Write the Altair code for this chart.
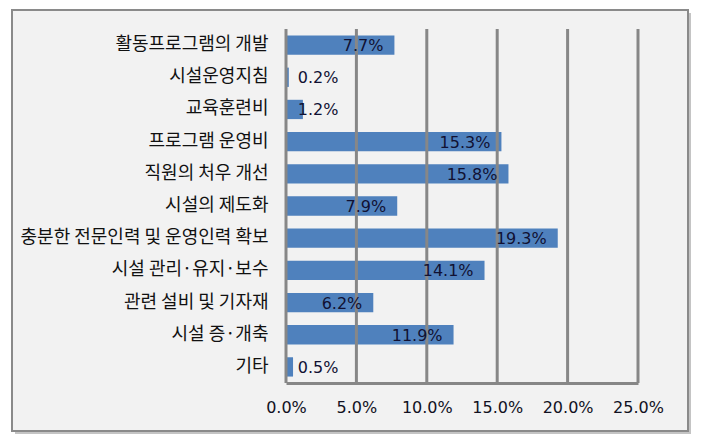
import altair as alt
import pandas as pd

categories = [
    "활동프로그램의 개발",
    "시설운영지침",
    "교육훈련비",
    "프로그램 운영비",
    "직원의 처우 개선",
    "시설의 제도화",
    "충분한 전문인력 및 운영인력 확보",
    "시설 관리·유지·보수",
    "관련 설비 및 기자재",
    "시설 증·개축",
    "기타",
]
values = [7.7, 0.2, 1.2, 15.3, 15.8, 7.9, 19.3, 14.1, 6.2, 11.9, 0.5]
tick_values = [0, 5, 10, 15, 20, 25]

df = pd.DataFrame({"category": categories, "value": values})
grid_df = pd.DataFrame({"tick": tick_values})

KFONT = "Noto Sans CJK KR"
NFONT = "DejaVu Sans"
GRID = "#878787"

xscale = alt.Scale(domain=[0, 25], nice=False, zero=True)
yscale = alt.Scale(domain=categories, paddingInner=0.4, paddingOuter=0.2)

# Decorative outer frame (shadow + panel)
shadow = alt.Chart(alt.Data(values=[{}])).mark_rect(color="#c4c4c4").encode(
    x=alt.value(-271), x2=alt.value(405), y=alt.value(-16), y2=alt.value(405)
)
frame = alt.Chart(alt.Data(values=[{}])).mark_rect(
    fill="#f2f2f2", stroke="#8a8a8a", strokeWidth=2
).encode(
    x=alt.value(-274), x2=alt.value(402), y=alt.value(-19), y2=alt.value(402)
)

bars = alt.Chart(df).mark_bar(color="#4f81bd").encode(
    x=alt.X(
        "value:Q",
        scale=xscale,
        axis=alt.Axis(
            values=tick_values,
            labelExpr="format(datum.value, '.1f') + '%'",
            grid=False,
            ticks=False,
            domain=True,
            domainColor=GRID,
            domainWidth=3,
            labelFont=NFONT,
            labelFontSize=16,
            labelColor="#111122",
            labelPadding=16,
            labelFlush=False,
            labelOverlap=False,
            title=None,
            zindex=1,
        ),
    ),
    y=alt.Y(
        "category:N",
        sort=categories,
        scale=yscale,
        axis=alt.Axis(
            ticks=False,
            domain=False,
            grid=False,
            labelFont=KFONT,
            labelFontSize=18,
            labelColor="#111111",
            labelPadding=18,
            labelLimit=400,
            title=None,
            zindex=1,
        ),
    ),
)

grid = alt.Chart(grid_df).mark_rule(color=GRID, strokeWidth=3).encode(
    x=alt.X("tick:Q", scale=xscale)
)

labels = alt.Chart(df).transform_calculate(
    pos="max(datum.value, 4.5)",
    label="format(datum.value, '.1f') + '%'",
).mark_text(
    align="right", baseline="middle", dx=-11, dy=1, font=NFONT, fontSize=16, color="#111133"
).encode(
    x=alt.X("pos:Q", scale=xscale),
    y=alt.Y("category:N", sort=categories, scale=yscale),
    text="label:N",
)

chart = alt.layer(shadow, frame, bars, grid, labels).properties(
    width=352,
    height=354,
    autosize=alt.AutoSizeParams(type="none"),
    padding={"left": 286, "top": 29, "right": 65, "bottom": 60},
    background="white",
).configure_view(stroke=None)

chart.save("out.html", embed_options={"renderer": "svg", "actions": False})
